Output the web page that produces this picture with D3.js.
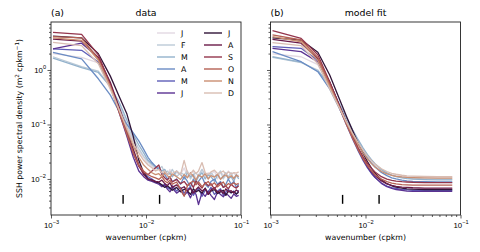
<!DOCTYPE html>
<html>
<head>
<meta charset="utf-8">
<script src="https://cdn.jsdelivr.net/npm/d3@7"></script>
<style>
body { margin: 0; background: #fff; }
svg { font-family: "DejaVu Sans", sans-serif; }
</style>
</head>
<body>
<svg id="chart" width="480" height="252"></svg>
<script>
// month labels and twilight colours
const months = ["J", "F", "M", "A", "M", "J", "J", "A", "S", "O", "N", "D"];
const colors = ["#e2d9e2", "#bccad7", "#93b2cc", "#6a8cc4", "#5e5eb8", "#5b3292",
	"#301437", "#6a1a48", "#94354c", "#b56154", "#ca8f72", "#d9bdb2"];

// wavenumbers (cpkm)
const kData = [0.00105, 0.0021, 0.00315, 0.0042, 0.00525, 0.0063, 0.00735, 0.0084, 0.00945, 0.0105,
	0.01155, 0.0126, 0.01365, 0.0147, 0.01575, 0.0168, 0.01785, 0.0189, 0.021, 0.0231,
	0.0252, 0.0273, 0.0294, 0.0315, 0.0336, 0.0357, 0.03885, 0.042, 0.04515, 0.0483,
	0.0525, 0.0567, 0.0609, 0.0651, 0.0693, 0.0735, 0.07875, 0.084, 0.08925, 0.0945];
const kFit = [0.00105, 0.0021, 0.00315, 0.0042, 0.00525, 0.0063, 0.00735, 0.0084, 0.00945, 0.0105,
	0.01155, 0.0126, 0.0147, 0.0168, 0.0189, 0.021, 0.02415, 0.0273, 0.0315, 0.042, 0.05775, 0.0819];

// observed spectra (m^2 cpkm^-1)
const obsJan = [2.0, 1.7, 1.35, 0.55, 0.2, 0.09, 0.05, 0.033, 0.025, 0.019, 0.017, 0.015,
	0.016, 0.013, 0.014, 0.012, 0.015, 0.011, 0.013, 0.012, 0.016, 0.011, 0.013, 0.014, 0.010, 0.012,
	0.015, 0.011, 0.013, 0.012, 0.014, 0.010, 0.013, 0.012, 0.011, 0.014, 0.012, 0.013, 0.011, 0.012];
const obsFeb = [1.75, 1.15, 0.95, 0.5, 0.22, 0.1, 0.055, 0.036, 0.026, 0.021, 0.018, 0.016,
	0.015, 0.017, 0.013, 0.014, 0.012, 0.015, 0.011, 0.013, 0.012, 0.014, 0.010, 0.012, 0.013, 0.011,
	0.015, 0.012, 0.010, 0.013, 0.011, 0.012, 0.014, 0.010, 0.012, 0.011, 0.013, 0.010, 0.012, 0.011];
const obsMar = [1.65, 1.1, 0.9, 0.5, 0.25, 0.12, 0.065, 0.042, 0.03, 0.022, 0.019, 0.017,
	0.016, 0.014, 0.015, 0.012, 0.013, 0.011, 0.014, 0.012, 0.010, 0.013, 0.011, 0.012, 0.009, 0.011,
	0.013, 0.010, 0.012, 0.011, 0.009, 0.012, 0.010, 0.011, 0.013, 0.010, 0.011, 0.009, 0.012, 0.010];
const obsApr = [2.1, 1.6, 0.69, 0.35, 0.17, 0.1, 0.07, 0.05, 0.035, 0.025, 0.02, 0.017,
	0.015, 0.013, 0.012, 0.010, 0.011, 0.009, 0.010, 0.008, 0.011, 0.009, 0.007, 0.010, 0.008, 0.009,
	0.011, 0.008, 0.007, 0.009, 0.010, 0.008, 0.009, 0.007, 0.008, 0.010, 0.008, 0.009, 0.007, 0.008];
const obsMay = [2.45, 2.3, 1.4, 0.5, 0.17, 0.07, 0.03, 0.018, 0.013, 0.011, 0.010, 0.009,
	0.0085, 0.0075, 0.008, 0.007, 0.0065, 0.0075, 0.006, 0.007, 0.0055, 0.0065, 0.007, 0.005, 0.006, 0.0068,
	0.0048, 0.0062, 0.0058, 0.007, 0.0052, 0.006, 0.0066, 0.005, 0.0058, 0.0064, 0.0055, 0.006, 0.0052, 0.0062];
const obsJun = [2.45, 3.1, 1.7, 0.55, 0.16, 0.06, 0.025, 0.014, 0.011, 0.0095, 0.009, 0.0085,
	0.008, 0.0072, 0.0078, 0.0065, 0.0058, 0.0068, 0.0055, 0.0062, 0.005, 0.0058, 0.0045, 0.006, 0.0052, 0.0034,
	0.0056, 0.0048, 0.006, 0.005, 0.0042, 0.0058, 0.0052, 0.0047, 0.0055, 0.005, 0.0044, 0.0053, 0.0048, 0.005];
const obsJul = [4.2, 3.9, 1.99, 0.78, 0.32, 0.155, 0.06, 0.022, 0.013, 0.01, 0.0095, 0.0088,
	0.0085, 0.0078, 0.007, 0.0075, 0.0068, 0.0062, 0.007, 0.0058, 0.0065, 0.006, 0.0052, 0.0066, 0.0058, 0.0062,
	0.0055, 0.0068, 0.0052, 0.006, 0.0064, 0.0054, 0.0058, 0.0062, 0.005, 0.006, 0.0056, 0.0058, 0.0053, 0.0057];
const obsAug = [3.7, 3.4, 1.7, 0.6, 0.2, 0.08, 0.035, 0.018, 0.012, 0.01, 0.0095, 0.009,
	0.0088, 0.0095, 0.0082, 0.0076, 0.0085, 0.007, 0.0078, 0.0066, 0.0072, 0.006, 0.0068, 0.0055, 0.0064, 0.0071,
	0.006, 0.0066, 0.0052, 0.0063, 0.0069, 0.0057, 0.0062, 0.0054, 0.0066, 0.0058, 0.0061, 0.0055, 0.0063, 0.0058];
const obsSep = [4.9, 4.5, 1.9, 0.55, 0.18, 0.07, 0.03, 0.017, 0.013, 0.012, 0.014, 0.016,
	0.018, 0.012, 0.0105, 0.0095, 0.011, 0.0088, 0.0098, 0.0082, 0.009, 0.0075, 0.0085, 0.007, 0.0092, 0.008,
	0.0068, 0.0086, 0.0075, 0.0082, 0.0065, 0.0078, 0.0085, 0.007, 0.0074, 0.0066, 0.008, 0.0072, 0.0068, 0.0075];
const obsOct = [4.1, 3.9, 1.6, 0.5, 0.16, 0.065, 0.03, 0.018, 0.014, 0.012, 0.011, 0.0105,
	0.0098, 0.011, 0.0092, 0.0085, 0.0095, 0.008, 0.0088, 0.0065, 0.0048, 0.0075, 0.0085, 0.0092, 0.0078, 0.0088,
	0.0072, 0.0082, 0.009, 0.0076, 0.0085, 0.0072, 0.008, 0.0088, 0.0074, 0.0082, 0.0078, 0.0085, 0.0079, 0.0083];
const obsNov = [3.9, 3.5, 1.5, 0.5, 0.18, 0.08, 0.04, 0.025, 0.018, 0.015, 0.013, 0.012,
	0.0125, 0.011, 0.013, 0.0115, 0.0105, 0.0125, 0.011, 0.0098, 0.012, 0.0105, 0.013, 0.0112, 0.0095, 0.0118,
	0.0108, 0.0125, 0.01, 0.0115, 0.0108, 0.0122, 0.0098, 0.0112, 0.012, 0.0105, 0.0115, 0.0102, 0.0118, 0.011];
const obsDec = [3.2, 2.8, 1.3, 0.45, 0.18, 0.085, 0.045, 0.03, 0.022, 0.018, 0.016, 0.014,
	0.015, 0.013, 0.014, 0.012, 0.0135, 0.0125, 0.014, 0.012, 0.022, 0.013, 0.012, 0.0145, 0.0125, 0.014,
	0.02, 0.013, 0.012, 0.0135, 0.0145, 0.0125, 0.013, 0.014, 0.012, 0.0135, 0.0125, 0.013, 0.0128, 0.0135];

// model fit spectra on kFit
const fitJan = [1.97, 1.75, 1.25, 0.5, 0.216, 0.11, 0.064, 0.042, 0.0303, 0.0236, 0.0195, 0.017,
	0.0141, 0.0128, 0.012, 0.0116, 0.0113, 0.0111, 0.011, 0.0108, 0.0108, 0.0108];
const fitFeb = [1.71, 1.36, 1.0, 0.5, 0.229, 0.121, 0.073, 0.0484, 0.0348, 0.0268, 0.0218, 0.0185,
	0.0148, 0.0129, 0.0118, 0.0112, 0.0107, 0.0104, 0.0102, 0.0100, 0.0099, 0.0099];
const fitMar = [1.75, 1.40, 0.95, 0.55, 0.251, 0.132, 0.079, 0.052, 0.037, 0.028, 0.0226, 0.0191,
	0.0149, 0.0128, 0.0117, 0.011, 0.0105, 0.0101, 0.0099, 0.0097, 0.0096, 0.0096];
const fitApr = [2.17, 1.42, 0.93, 0.45, 0.206, 0.109, 0.0655, 0.0435, 0.0312, 0.024, 0.0195, 0.0165,
	0.0132, 0.0115, 0.0105, 0.01, 0.0095, 0.0092, 0.009, 0.0089, 0.0088, 0.0088];
const fitMay = [2.68, 2.5, 1.5, 0.55, 0.212, 0.0986, 0.0531, 0.0323, 0.0217, 0.0159, 0.0126, 0.0106,
	0.0084, 0.0074, 0.0069, 0.0067, 0.0064, 0.0063, 0.0062, 0.0062, 0.0062, 0.0062];
const fitJun = [2.5, 2.17, 1.4, 0.6, 0.231, 0.107, 0.057, 0.0343, 0.0228, 0.0165, 0.0129, 0.0107,
	0.0083, 0.0072, 0.0067, 0.0064, 0.0062, 0.006, 0.0059, 0.0059, 0.0059, 0.0059];
const fitJul = [3.9, 3.55, 2.11, 0.81, 0.31, 0.142, 0.0755, 0.0448, 0.0292, 0.0207, 0.0158, 0.0128,
	0.0097, 0.0082, 0.0075, 0.0071, 0.0068, 0.0066, 0.0065, 0.0064, 0.0064, 0.0064];
const fitAug = [3.66, 3.1, 1.6, 0.6, 0.232, 0.108, 0.058, 0.035, 0.0237, 0.0174, 0.0138, 0.0116,
	0.0092, 0.0081, 0.0076, 0.0073, 0.0071, 0.007, 0.0069, 0.0068, 0.0068, 0.0068];
const fitSep = [5.3, 3.8, 1.9, 0.6, 0.233, 0.109, 0.06, 0.037, 0.0255, 0.0192, 0.0156, 0.0134,
	0.011, 0.0099, 0.0094, 0.0091, 0.0089, 0.0088, 0.0087, 0.0086, 0.0086, 0.0086];
const fitOct = [4.4, 3.55, 1.7, 0.55, 0.214, 0.1, 0.0546, 0.0338, 0.0232, 0.0174, 0.0141, 0.0121,
	0.0099, 0.0089, 0.0084, 0.0081, 0.0079, 0.0078, 0.0077, 0.0077, 0.0077, 0.0077];
const fitNov = [4.08, 3.3, 1.5, 0.5, 0.2152, 0.1092, 0.0637, 0.0417, 0.0299, 0.0232, 0.0191, 0.0166,
	0.0137, 0.0124, 0.0116, 0.0112, 0.0109, 0.0107, 0.0106, 0.0105, 0.0104, 0.0104];
const fitDec = [3.17, 2.8, 1.3, 0.45, 0.208, 0.111, 0.0677, 0.0457, 0.0334, 0.0262, 0.0217, 0.0187,
	0.0154, 0.0137, 0.0127, 0.0122, 0.0117, 0.0114, 0.0113, 0.0111, 0.011, 0.011];

// wavenumber markers (cpkm) and their vertical extent
const markK = [0.00574, 0.0139];
const markY = [0.0051, 0.0035];

const obs = [obsJan, obsFeb, obsMar, obsApr, obsMay, obsJun, obsJul, obsAug, obsSep, obsOct, obsNov, obsDec];
const fit = [fitJan, fitFeb, fitMar, fitApr, fitMay, fitJun, fitJul, fitAug, fitSep, fitOct, fitNov, fitDec];

const svg = d3.select("#chart");
const W = 190, H = 193, TOP = 22;
const fs = 7.8;

const x = d3.scaleLog().domain([1e-3, 1e-1]).range([0, W]);
const y = d3.scaleLog().domain([0.00218, 7.6]).range([H, 0]);

function pow10(sel, v) {
	let e = Math.round(Math.log10(v));
	sel.text("10");
	sel.append("tspan").attr("dy", -3.8).attr("font-size", fs * 0.72)
		.text(String(e).replace("-", "\u2212"));
}

function panel(left, id, kArr, series, letter, title, showYLabels) {
	let g = svg.append("g").attr("transform", `translate(${left},${TOP})`);

	g.append("clipPath").attr("id", "clip" + id)
		.append("rect").attr("width", W).attr("height", H);

	let line = d3.line()
		.x((d, i) => x(kArr[i]))
		.y(d => y(d));

	g.append("g").attr("clip-path", `url(#clip${id})`)
		.selectAll("path")
		.data(series)
		.enter().append("path")
		.attr("d", d => line(d.slice(0, kArr.length)))
		.attr("fill", "none")
		.attr("stroke", (d, i) => colors[i])
		.attr("stroke-width", 1.3)
		.attr("stroke-linejoin", "round");

	g.selectAll(".mark")
		.data(markK)
		.enter().append("line")
		.attr("x1", d => x(d)).attr("x2", d => x(d))
		.attr("y1", y(markY[0])).attr("y2", y(markY[1]))
		.attr("stroke", "#000").attr("stroke-width", 1.4);

	// axes
	let majorsX = [1e-3, 1e-2, 1e-1];
	let minorsX = x.ticks().filter(v => majorsX.indexOf(v) < 0);
	let majorsY = [1e-2, 1e-1, 1];
	let minorsY = y.ticks().filter(v => Math.abs(Math.log10(v) - Math.round(Math.log10(v))) > 1e-6);

	let xa = g.append("g").attr("transform", `translate(0,${H})`);
	xa.append("g").call(d3.axisBottom(x).tickValues(minorsX).tickSize(2).tickFormat(""));
	let xm = xa.append("g").call(d3.axisBottom(x).tickValues(majorsX).tickSize(3.5).tickFormat(""));
	xm.selectAll(".tick").append("text")
		.attr("y", 12.5).attr("fill", "#000").attr("font-size", fs)
		.attr("text-anchor", "middle")
		.each(function(d) { pow10(d3.select(this), d); });

	let ya = g.append("g");
	ya.append("g").call(d3.axisLeft(y).tickValues(minorsY).tickSize(2).tickFormat(""));
	let ym = ya.append("g").call(d3.axisLeft(y).tickValues(majorsY).tickSize(3.5).tickFormat(""));
	if (showYLabels) {
		ym.selectAll(".tick").append("text")
			.attr("x", -5).attr("dy", "0.32em").attr("fill", "#000").attr("font-size", fs)
			.attr("text-anchor", "end")
			.each(function(d) { pow10(d3.select(this), d); });
	}
	g.selectAll(".domain").remove();
	g.selectAll(".tick line").attr("stroke", "#333").attr("stroke-width", 0.8);

	g.append("rect").attr("width", W).attr("height", H)
		.attr("fill", "none").attr("stroke", "#222").attr("stroke-width", 0.9);

	g.append("text").attr("x", W / 2).attr("y", H + 25).attr("font-size", fs)
		.attr("fill", "#000").attr("text-anchor", "middle").text("wavenumber (cpkm)");
	g.append("text").attr("x", 0).attr("y", -6).attr("font-size", fs * 1.2)
		.attr("fill", "#000").text(letter);
	g.append("text").attr("x", W / 2).attr("y", -6).attr("font-size", fs * 1.2)
		.attr("fill", "#000").attr("text-anchor", "middle").text(title);
	return g;
}

panel(51, "a", kData, obs, "(a)", "data", true);
panel(270.5, "b", kFit, fit, "(b)", "model fit", false);

// y label
let yl = svg.append("text")
	.attr("transform", `translate(22,${TOP + H / 2}) rotate(-90)`)
	.attr("font-size", fs).attr("fill", "#000").attr("text-anchor", "middle");
yl.append("tspan").text("SSH power spectral density (m");
yl.append("tspan").attr("dy", -3).attr("font-size", fs * 0.72).text("2");
yl.append("tspan").attr("dy", 3).text(" cpkm");
yl.append("tspan").attr("dy", -3).attr("font-size", fs * 0.72).text("\u22121");
yl.append("tspan").attr("dy", 3).text(")");

// legend, two columns of six
let leg = svg.append("g").selectAll("g")
	.data(months)
	.enter().append("g")
	.attr("transform", (d, i) => `translate(${i < 6 ? 157 : 204},${33 + (i % 6) * 12})`);
leg.append("line").attr("x1", 0).attr("x2", 18)
	.attr("stroke", (d, i) => colors[i]).attr("stroke-width", 1.4);
leg.append("text").attr("x", 24).attr("dy", "0.35em").attr("font-size", fs)
	.attr("fill", "#000").text(d => d);
</script>
</body>
</html>
